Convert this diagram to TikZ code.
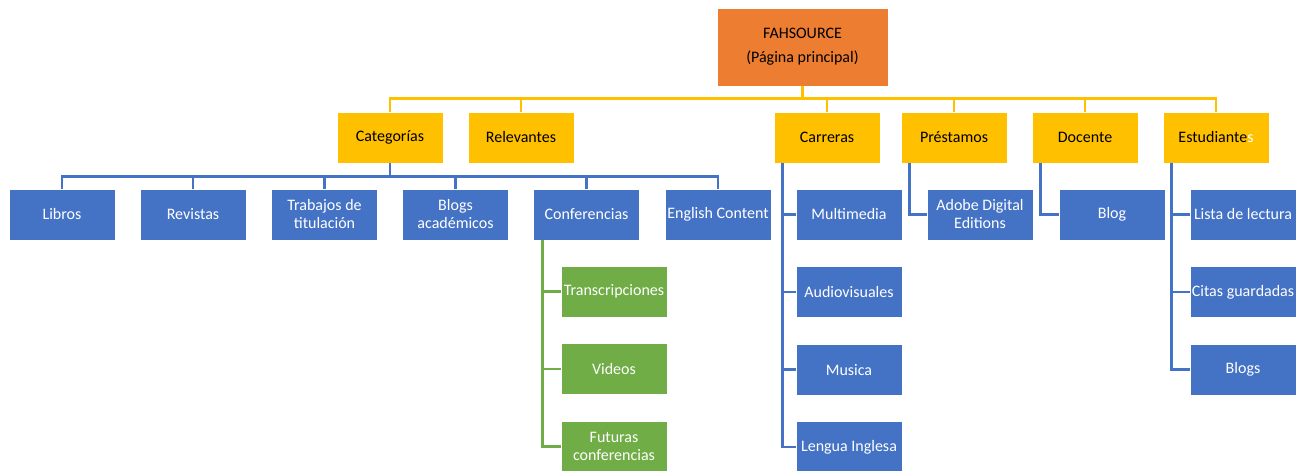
\documentclass[tikz,border=0pt]{standalone}
\usepackage{fontspec}
\setmainfont{Carlito}
\usetikzlibrary{positioning}
\definecolor{fahorange}{HTML}{ED7D31}
\definecolor{fahyellow}{HTML}{FFC000}
\definecolor{fahblue}{HTML}{4472C4}
\definecolor{fahgreen}{HTML}{70AD47}
\tikzset{
  x=0.75pt,
  y=-0.75pt,
  node distance=19.5pt,
}
\tikzstyle{every node}=[font=\fontsize{12}{13.5}\selectfont]
\tikzstyle{box}=[minimum width=79.5pt,minimum height=38.25pt,inner sep=1pt,
  align=center,draw=white,line width=.4pt]
\tikzstyle{ybox}=[box,fill=fahyellow]
\tikzstyle{bbox}=[box,fill=fahblue,text=white]
\tikzstyle{gbox}=[box,fill=fahgreen,text=white]
\tikzstyle{yline}=[fahyellow,line width=2pt]
\tikzstyle{bline}=[fahblue,line width=2pt]
\tikzstyle{gline}=[fahgreen,line width=2pt]

\begin{document}
\begin{tikzpicture}
    \useasboundingbox (0,0) rectangle (1306,471);
    % main page
    \node[box,fill=fahorange,minimum width=128pt,minimum height=58.5pt]
      (root) at (802.5,47) {FAHSOURCE\\[4.5pt](Página principal)};
    % first level
    \node[ybox] (cat) at (390,137.5) {Categorías};
    \node[ybox] (rel) at (521,137.5) {Relevantes};
    \node[ybox] (car) at (827,137.5) {Carreras};
    \node[ybox] (pre) at (954,137.5) {Préstamos};
    \node[ybox] (doc) at (1085,137.5) {Docente};
    \node[ybox] (est) at (1216,137.5) {Estudiante\textcolor{white}{s}};
    \foreach \n in {cat,rel,car,pre,doc,est}
      \draw[yline] (root.south) -- ++(0,12) -| (\n.north);
    % categorias
    \node[bbox] (lib) at (62,214.5) {Libros};
    \node[bbox] (rev) at (193,214.5) {Revistas};
    \node[bbox] (tra) at (324.5,214.5) {Trabajos de\\titulación};
    \node[bbox] (blo) at (455.5,214.5) {Blogs\\académicos};
    \node[bbox] (con) at (586.5,214.5) {Conferencias};
    \node[bbox] (eng) at (718,214.5) {English Content};
    \foreach \n in {lib,rev,tra,blo,con,eng}
      \draw[bline] (cat.south) -- ++(0,13) -| (\n.north);
    % conferencias
    \node[gbox] (tran) at (614,291.5) {Transcripciones};
    \node[gbox,below=of tran] (vid) {Videos};
    \node[gbox,below=of vid] (fut) {Futuras\\conferencias};
    \foreach \n in {tran,vid,fut}
      \draw[gline] ([xshift=6.75pt]con.south west) |- (\n.west);
    % carreras
    \node[bbox] (mul) at (849,214.5) {Multimedia};
    \node[bbox,below=of mul] (aud) {Audiovisuales};
    \node[bbox,below=of aud] (mus) {Musica};
    \node[bbox,below=of mus] (len) {Lengua Inglesa};
    \foreach \n in {mul,aud,mus,len}
      \draw[bline] ([xshift=6.75pt]car.south west) |- (\n.west);
    % prestamos, docente
    \node[bbox] (ado) at (980,214.5) {Adobe Digital\\Editions};
    \draw[bline] ([xshift=6.75pt]pre.south west) |- (ado.west);
    \node[bbox] (blg) at (1112,214.5) {Blog};
    \draw[bline] ([xshift=6.75pt]doc.south west) |- (blg.west);
    % estudiantes
    \node[bbox] (lis) at (1243,214.5) {Lista de lectura};
    \node[bbox,below=of lis] (cit) {Citas guardadas};
    \node[bbox,below=of cit] (blgs) {Blogs};
    \foreach \n in {lis,cit,blgs}
      \draw[bline] ([xshift=6.75pt]est.south west) |- (\n.west);
\end{tikzpicture}
\end{document}
